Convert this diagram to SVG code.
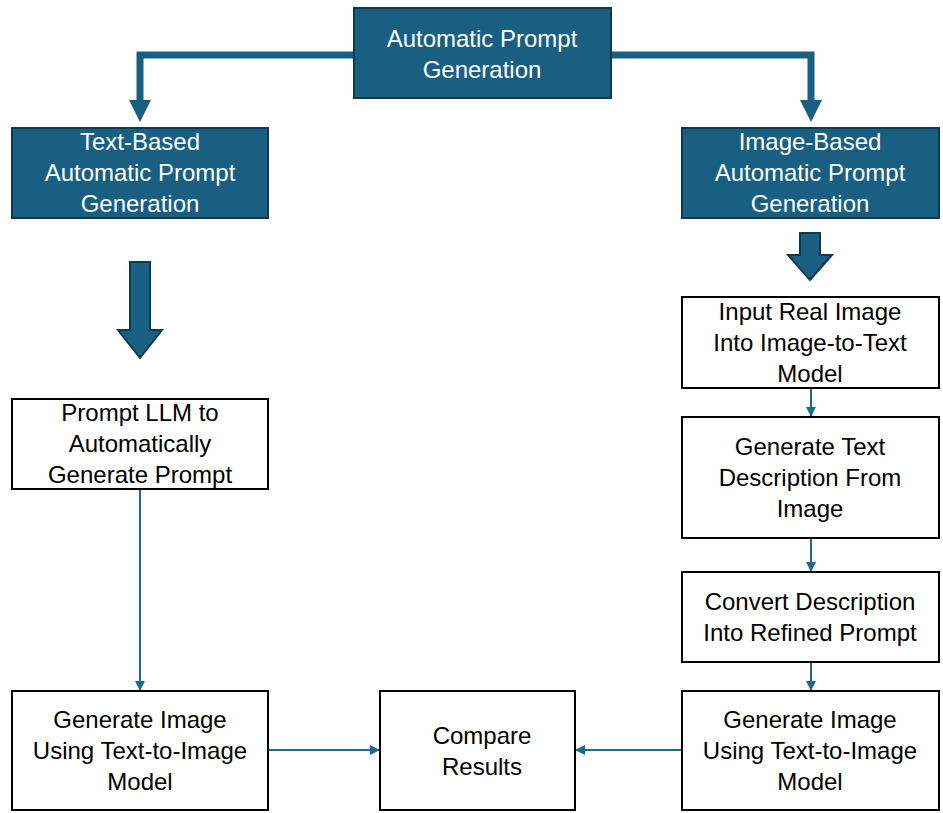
<svg xmlns="http://www.w3.org/2000/svg" width="943" height="813" viewBox="0 0 943 813">
<defs>
<style>
.dark{fill:#185f82;stroke:#0e3a50;stroke-width:2}
.light{fill:#ffffff;stroke:#000000;stroke-width:2}
.tw{font-family:"Liberation Sans",Arial,sans-serif;font-size:24px;fill:#ffffff;text-anchor:middle}
.tb{font-family:"Liberation Sans",Arial,sans-serif;font-size:24px;fill:#000000;text-anchor:middle}
.thin{stroke:#1f6b8e;stroke-width:2;fill:none}
.thick{stroke:#185f82;stroke-width:7;fill:none}
.blk{fill:#185f82;stroke:#0e3a50;stroke-width:2}
</style>
<marker id="ah" markerWidth="10" markerHeight="10" refX="9" refY="5" orient="auto" markerUnits="userSpaceOnUse">
<path d="M0,0 L10,5 L0,10 Z" fill="#1f6b8e"/>
</marker>
</defs>
<rect width="943" height="813" fill="#ffffff"/>
<g id="connectors">
<path class="thick" d="M354,55 H140 V102"/>
<path d="M129,100 L151,100 L140,122 Z" fill="#185f82"/>
<path class="thick" d="M611,55 H811 V102"/>
<path d="M800,100 L822,100 L811,122 Z" fill="#185f82"/>
<path class="blk" d="M130,262 H150 V330 H162 L140,358 L118,330 H130 Z"/>
<path class="blk" d="M800,233 H820 V255 H832 L810,280 L788,255 H800 Z"/>
<line class="thin" x1="140" y1="489" x2="140" y2="690" marker-end="url(#ah)"/>
<line class="thin" x1="811" y1="388" x2="811" y2="416" marker-end="url(#ah)"/>
<line class="thin" x1="811" y1="538" x2="811" y2="571" marker-end="url(#ah)"/>
<line class="thin" x1="811" y1="662" x2="811" y2="690" marker-end="url(#ah)"/>
<line class="thin" x1="268" y1="750" x2="379" y2="750" marker-end="url(#ah)"/>
<line class="thin" x1="682" y1="750" x2="576" y2="750" marker-end="url(#ah)"/>
</g>
<g id="n-root">
<rect class="dark" x="354" y="8" width="257" height="90"/>
<text class="tw" x="482" y="47">Automatic Prompt</text>
<text class="tw" x="482" y="78">Generation</text>
</g>
<g id="n-text">
<rect class="dark" x="12" y="128" width="256" height="90"/>
<text class="tw" x="140" y="150">Text-Based</text>
<text class="tw" x="140" y="181">Automatic Prompt</text>
<text class="tw" x="140" y="212">Generation</text>
</g>
<g id="n-image">
<rect class="dark" x="682" y="128" width="257" height="90"/>
<text class="tw" x="810" y="150">Image-Based</text>
<text class="tw" x="810" y="181">Automatic Prompt</text>
<text class="tw" x="810" y="212">Generation</text>
</g>
<g id="n-llm">
<rect class="light" x="12" y="399" width="256" height="90"/>
<text class="tb" x="140" y="421">Prompt LLM to</text>
<text class="tb" x="140" y="452">Automatically</text>
<text class="tb" x="140" y="483">Generate Prompt</text>
</g>
<g id="n-input">
<rect class="light" x="682" y="297" width="257" height="91"/>
<text class="tb" x="810" y="320">Input Real Image</text>
<text class="tb" x="810" y="351">Into Image-to-Text</text>
<text class="tb" x="810" y="382">Model</text>
</g>
<g id="n-desc">
<rect class="light" x="682" y="417" width="257" height="121"/>
<text class="tb" x="810" y="455">Generate Text</text>
<text class="tb" x="810" y="486">Description From</text>
<text class="tb" x="810" y="517">Image</text>
</g>
<g id="n-refine">
<rect class="light" x="682" y="572" width="257" height="90"/>
<text class="tb" x="810" y="610">Convert Description</text>
<text class="tb" x="810" y="641">Into Refined Prompt</text>
</g>
<g id="n-genL">
<rect class="light" x="12" y="691" width="256" height="119"/>
<text class="tb" x="140" y="728">Generate Image</text>
<text class="tb" x="140" y="759">Using Text-to-Image</text>
<text class="tb" x="140" y="790">Model</text>
</g>
<g id="n-compare">
<rect class="light" x="380" y="691" width="195" height="119"/>
<text class="tb" x="482" y="744">Compare</text>
<text class="tb" x="482" y="775">Results</text>
</g>
<g id="n-genR">
<rect class="light" x="682" y="691" width="257" height="119"/>
<text class="tb" x="810" y="728">Generate Image</text>
<text class="tb" x="810" y="759">Using Text-to-Image</text>
<text class="tb" x="810" y="790">Model</text>
</g>
</svg>
